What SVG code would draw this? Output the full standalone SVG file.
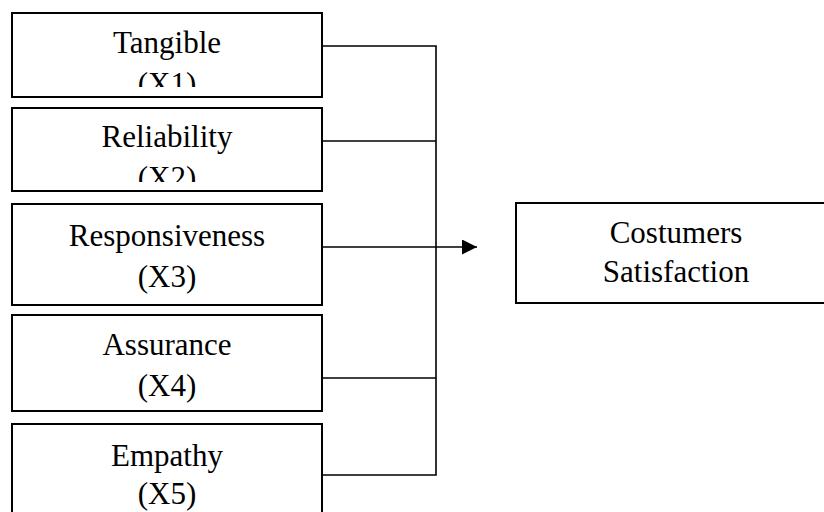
<svg xmlns="http://www.w3.org/2000/svg" width="824" height="512" viewBox="0 0 824 512">
<style>
.box{fill:#fff;stroke:#000;stroke-width:2}
.t{font-family:'Liberation Serif', 'Times New Roman', Times, serif;font-size:31px;fill:#000;text-anchor:middle}
.c{fill:none;stroke:#000;stroke-width:1.6}
</style>
<defs>
<clipPath id="clip1"><rect x="12" y="13" width="310" height="74"/></clipPath>
<clipPath id="clip2"><rect x="12" y="108" width="310" height="74"/></clipPath>
<marker id="arr" viewBox="0 0 10 10" refX="10" refY="5" markerWidth="15" markerHeight="15" markerUnits="userSpaceOnUse" orient="auto">
<path d="M0,0 L10,5 L0,10 Z" fill="#000"/>
</marker>
</defs>
<rect width="824" height="512" fill="#fff"/>
<g id="connectors">
<path class="c" d="M322,46 H436 V475 H322"/>
<path class="c" d="M322,141 H436"/>
<path class="c" d="M322,378 H436"/>
<path class="c" d="M322,247 H477" marker-end="url(#arr)"/>
</g>
<g id="tangible">
<rect class="box" x="12" y="13" width="310" height="84"/>
<g clip-path="url(#clip1)"><text class="t" font-family="Liberation Serif, serif" x="167" y="53">Tangible</text><text class="t" font-family="Liberation Serif, serif" x="167" y="94">(X1)</text></g>
</g>
<g id="reliability">
<rect class="box" x="12" y="108" width="310" height="83"/>
<g clip-path="url(#clip2)"><text class="t" x="167" y="147">Reliability</text><text class="t" x="167" y="188">(X2)</text></g>
</g>
<g id="responsiveness">
<rect class="box" x="12" y="204" width="310" height="101"/>
<text class="t" x="167" y="246">Responsiveness</text><text class="t" x="167" y="287">(X3)</text>
</g>
<g id="assurance">
<rect class="box" x="12" y="315" width="310" height="96"/>
<text class="t" x="167" y="355">Assurance</text><text class="t" x="167" y="396">(X4)</text>
</g>
<g id="empathy">
<rect class="box" x="12" y="424" width="310" height="100"/>
<text class="t" x="167" y="466">Empathy</text><text class="t" x="167" y="504">(X5)</text>
</g>
<g id="satisfaction">
<rect class="box" x="516" y="203" width="330" height="100"/>
<text class="t" x="676" y="243">Costumers</text><text class="t" x="676" y="282">Satisfaction</text>
</g>
</svg>
